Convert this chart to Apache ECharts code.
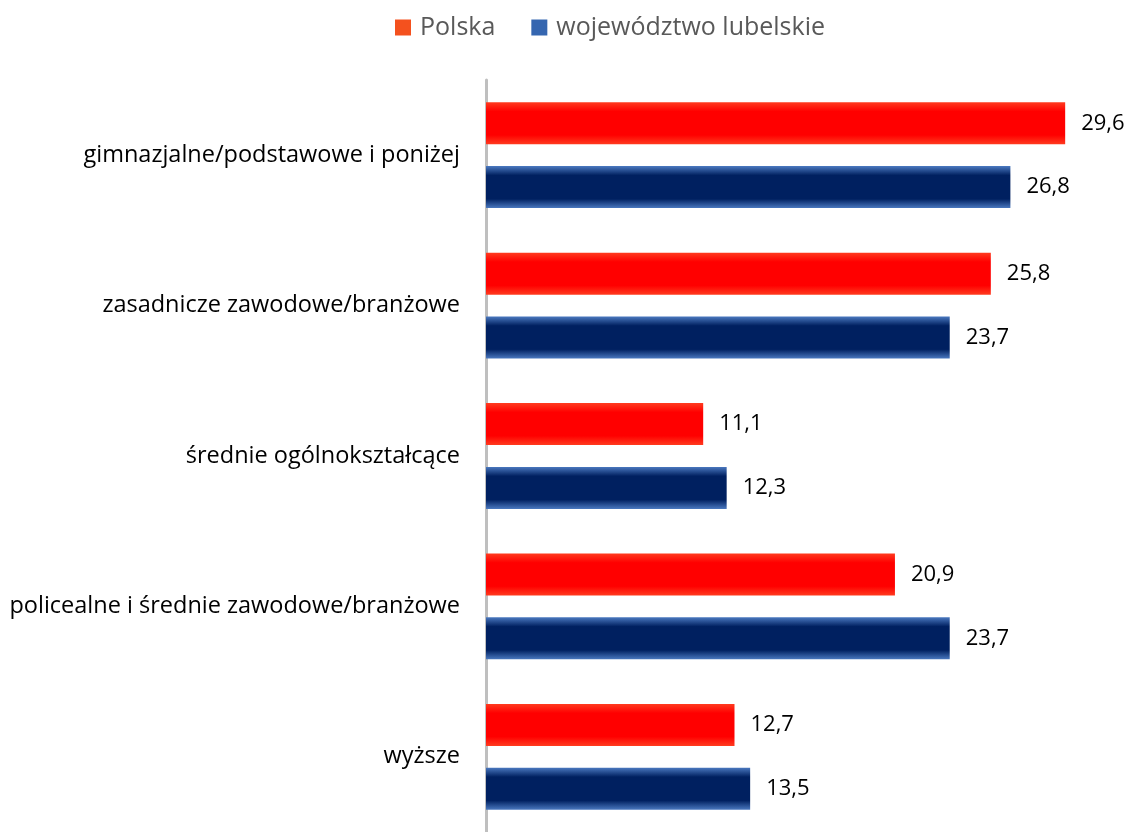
<!DOCTYPE html>
<html>
<head>
<meta charset="utf-8">
<script src="https://cdn.jsdelivr.net/npm/echarts@6/dist/echarts.min.js"></script>
<style>
  html, body { margin: 0; padding: 0; background: #fff; }
  #chart { width: 1132px; height: 832px; }
</style>
</head>
<body>
<div id="chart"></div>
<script>
var categories = [
    'gimnazjalne/podstawowe i poniżej',
    'zasadnicze zawodowe/branżowe',
    'średnie ogólnokształcące',
    'policealne i średnie zawodowe/branżowe',
    'wyższe'
];
var polska = [29.6, 25.8, 11.1, 20.9, 12.7];
var lubelskie = [26.8, 23.7, 12.3, 23.7, 13.5];

var FONT = 'Open Sans';

// gradient pionowy: jaśniejsze brzegi, ciemny środek
function edgeGradient(edge, mid) {
    return new echarts.graphic.LinearGradient(0, 0, 0, 1, [
        { offset: 0, color: edge },
        { offset: 0.22, color: mid },
        { offset: 0.78, color: mid },
        { offset: 1, color: edge }
    ]);
}

var labelOpt = {
    show: true,
    position: 'right',
    distance: 16,
    color: '#000',
    fontSize: 22,
    fontFamily: FONT,
    formatter: function (p) {
        return p.value.toFixed(1).replace('.', ',');
    }
};

var chart = echarts.init(document.getElementById('chart'));
chart.setOption({
    animation: false,
    legend: {
        top: 10,
        left: 390,
        itemWidth: 16,
        itemHeight: 16,
        itemGap: 36,
        icon: 'rect',
        textStyle: { color: '#595959', fontSize: 25, fontFamily: FONT, padding: [0, 0, 0, 4] },
        data: [
            { name: 'Polska', itemStyle: { color: '#f4511e' } },
            { name: 'województwo lubelskie', itemStyle: { color: '#3566b0' } }
        ]
    },
    grid: { left: 486, right: 59, top: 80, bottom: 0 },
    xAxis: {
        type: 'value',
        min: 0,
        max: 30,
        show: false
    },
    yAxis: {
        type: 'category',
        inverse: true,
        data: categories,
        axisLine: { show: true, lineStyle: { color: '#bfbfbf', width: 3 } },
        axisTick: { show: false },
        axisLabel: { color: '#000', fontSize: 23.5, fontFamily: FONT, margin: 26, padding: [10, 0, 0, 0] }
    },
    series: [
        {
            name: 'Polska',
            type: 'bar',
            data: polska,
            barWidth: 42,
            barGap: '52%',
            itemStyle: { color: edgeGradient('#ff3b1f', '#ff0000') },
            label: labelOpt
        },
        {
            name: 'województwo lubelskie',
            type: 'bar',
            data: lubelskie,
            barWidth: 42,
            itemStyle: { color: edgeGradient('#4a78bf', '#002060') },
            label: labelOpt
        }
    ]
});
</script>
</body>
</html>
